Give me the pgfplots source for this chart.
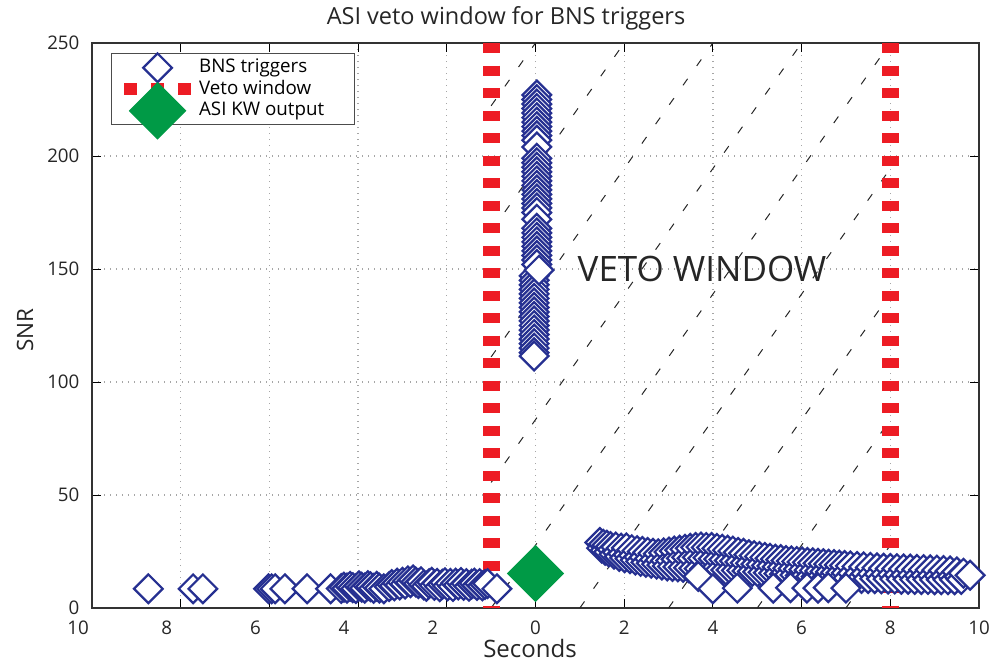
\documentclass[border=0pt]{standalone}
\usepackage{fontspec}
\setmainfont{Open Sans}
\usepackage{pgfplots}
\pgfplotsset{compat=1.18}
\definecolor{bnsblue}{RGB}{38,48,145}
\definecolor{vetored}{RGB}{237,28,36}
\definecolor{kwgreen}{RGB}{0,154,70}
\pgfplotsset{
  marklegend/.style={legend image code/.code={\begin{pgfinterruptboundingbox}\draw[mark repeat=2,mark phase=2,##1] plot coordinates {(0pt,0pt) (13.4pt,0pt) (26.8pt,0pt)};\end{pgfinterruptboundingbox}\pgfpathrectangle{\pgfpoint{0pt}{-1pt}}{\pgfpoint{26.8pt}{2pt}}\pgfusepath{discard}}},
  redlegend/.style={legend image code/.code={\begin{pgfinterruptboundingbox}\draw[vetored, line width=4.8pt, dash pattern=on 5.2pt off 5.6pt] (0pt,0pt) -- (26.8pt,0pt);\end{pgfinterruptboundingbox}\pgfpathrectangle{\pgfpoint{0pt}{-1pt}}{\pgfpoint{26.8pt}{2pt}}\pgfusepath{discard}}},
  hatch/.style={forget plot, black!85, line width=0.4pt, dash pattern=on 3.2pt off 6.3pt},
  bns/.style={only marks, mark=square*, mark size=4.05pt, mark options={rotate=45, draw=bnsblue, fill=white, line width=0.9pt}},
}
\begin{document}
\begin{tikzpicture}
\begin{axis}[
  at={(0pt,0pt)}, anchor=south west,
  scale only axis, width=354.8pt, height=226pt,
  xmin=-10, xmax=10, ymin=0, ymax=250,
  xtick={-10,-8,...,10},
  xticklabels={{10\hspace*{11.2pt}},{8\hspace*{11.2pt}},{6\hspace*{11.2pt}},{4\hspace*{11.2pt}},{2\hspace*{11.2pt}},0,2,4,6,8,10},
  ytick={0,50,...,250},
  tick align=inside,
  major tick length=3.5pt,
  tick style={black, line width=0.4pt},
  axis line style={black!80, line width=0.5pt},
  grid=major,
  major grid style={gray!70, dotted, line width=0.5pt},
  /pgf/number format/assume math mode=true,
  ticklabel style={font=\fontsize{7.5}{9}\selectfont, text=black!85},
  xticklabel style={yshift=-1.5pt},
  yticklabel style={xshift=-1.5pt},
  legend cell align=left,
  legend style={at={(0.0214,0.982)}, anchor=north west, draw=black!70, line width=0.5pt, fill=white,
    font=\fontsize{7.5}{9}\selectfont, inner xsep=5pt, inner ysep=1.3pt,
    nodes={inner sep=0.6pt, text height=5.6pt, text depth=1.8pt},
    /tikz/every odd column/.append style={column sep=2.6pt}},
]
% hatching of the veto window
\addplot[hatch] coordinates {(-1,222.22) (0,250)};
\addplot[hatch] coordinates {(-1,166.67) (2,250)};
\addplot[hatch] coordinates {(-1,111.11) (4,250)};
\addplot[hatch] coordinates {(-1,55.56) (6,250)};
\addplot[hatch] coordinates {(-1,0) (8,250)};
\addplot[hatch] coordinates {(1,0) (8,194.44)};
\addplot[hatch] coordinates {(3,0) (8,138.89)};
\addplot[hatch] coordinates {(5,0) (8,83.33)};
\addplot[hatch] coordinates {(7,0) (8,27.78)};

% BNS triggers: before the window
\addplot[bns, marklegend] table {
x y
-8.73 8.5
-7.72 8.5
-7.50 8.5
-6.02 8.5
-5.95 8.5
-5.87 8.5
-5.65 8.5
-5.15 8.5
-4.62 8.5
-4.38 8.6
-4.32 9.2
-4.25 8.8
-4.18 9.6
-4.12 9.0
-4.05 8.6
-3.98 9.8
-3.92 9.2
-3.85 8.8
-3.78 9.9
-3.72 9.4
-3.65 8.7
-3.58 9.6
-3.52 8.8
-3.42 8.5
-3.30 9.5
-3.24 10.4
-3.18 9.8
-3.12 11.0
-3.06 10.2
-3.00 11.4
-2.94 10.6
-2.88 12.0
-2.82 11.2
-2.76 12.4
-2.70 11.5
-2.64 10.8
-2.58 11.6
-2.52 10.2
-2.46 9.6
-2.40 10.8
-2.34 11.4
-2.28 10.0
-2.22 10.9
-2.16 9.4
-2.10 10.5
-2.04 11.2
-1.98 9.8
-1.92 10.9
-1.86 9.5
-1.80 11.0
-1.74 10.2
-1.68 11.3
-1.62 10.0
-1.56 10.8
-1.50 9.6
-1.44 10.6
-1.38 11.0
-1.32 10.0
-1.26 10.8
-1.20 9.8
-1.14 10.4
-1.08 10.8
-0.87 8.5
};
\addlegendentry{\makebox[56.5pt][l]{BNS triggers}}

% BNS triggers: column at zero
\addplot[bns, forget plot] table {
x y
0.03 227
0.03 225
0.03 223
0.03 221
0.03 219
0.03 217
0.03 215
0.03 213
0.03 211
0.03 209
0.03 207
0.03 204
0.03 199
0.03 197
0.03 195
0.03 193
0.03 191
0.03 189
0.03 187
0.03 185
0.03 183
0.03 181
0.03 179
0.03 177
0.03 175
0.03 172
0.03 168
0.03 166
0.03 164
0.03 162
0.03 160
0.03 158
0.03 156
0.03 154
0.03 152
-0.03 147
-0.03 145
-0.03 143
-0.03 141
-0.03 139
-0.03 137
-0.03 135
-0.03 133
-0.03 131
-0.03 129
-0.03 127
-0.03 125
-0.03 123
-0.03 121
-0.03 119
-0.03 117
-0.03 115
-0.03 113
-0.03 111.5
0.08 149.5
};

% BNS triggers: after the window start
\addplot[bns, forget plot] table {
x y
1.45 29.0
1.49 26.5
1.53 28.2
1.57 25.5
1.61 27.8
1.65 24.8
1.69 27.2
1.73 25.8
1.77 23.8
1.81 27.0
1.85 24.6
1.89 22.8
1.93 26.5
1.97 24.0
2.01 22.2
2.05 26.6
2.09 23.5
2.13 21.8
2.17 25.8
2.21 23.2
2.25 21.2
2.29 25.4
2.33 22.6
2.37 20.6
2.41 25.0
2.45 22.4
2.49 20.2
2.53 24.6
2.57 21.8
2.61 19.8
2.65 24.2
2.69 21.4
2.73 19.4
2.77 24.0
2.81 21.2
2.85 19.0
2.89 24.4
2.93 21.0
2.97 18.6
3.01 24.8
3.05 21.0
3.09 18.4
3.13 25.2
3.17 21.6
3.21 18.2
3.25 25.6
3.29 22.0
3.33 18.0
3.37 26.0
3.41 22.4
3.45 17.8
3.49 26.4
3.53 22.0
3.57 17.6
3.61 26.8
3.65 22.4
3.69 17.4
3.73 27.0
3.77 22.0
3.81 17.2
3.85 26.8
3.89 22.2
3.93 17.2
3.97 26.8
4.01 21.8
4.05 17.0
4.09 26.4
4.13 21.6
4.17 17.0
4.21 26.0
4.25 21.4
4.29 16.8
4.33 25.6
4.37 21.0
4.41 16.8
4.45 25.2
4.49 20.8
4.53 16.6
4.57 24.6
4.61 20.4
4.65 16.6
4.69 24.2
4.73 20.0
4.77 16.4
4.81 23.6
4.85 19.8
4.89 16.2
4.93 23.2
4.97 19.4
5.01 16.0
5.05 22.8
5.09 19.2
5.13 15.8
5.17 22.4
5.21 18.8
5.25 15.6
5.29 22.0
5.33 18.6
5.37 15.4
5.41 21.6
5.45 18.2
5.49 15.2
5.53 21.4
5.57 18.0
5.61 15.0
5.65 21.0
5.69 17.6
5.73 14.8
5.77 20.8
5.81 17.4
5.85 14.6
5.89 20.6
5.93 17.2
5.97 14.4
6.01 20.4
6.05 17.0
6.09 14.2
6.13 20.2
6.17 16.8
6.21 14.0
6.25 20.0
6.29 16.6
6.33 13.9
6.37 19.8
6.41 16.4
6.45 13.8
6.49 19.6
6.53 16.2
6.57 13.7
6.61 19.4
6.65 16.0
6.69 13.6
6.73 19.2
6.77 15.8
6.81 13.5
6.85 19.0
6.89 15.6
6.93 13.4
6.97 18.8
7.01 15.5
7.05 13.3
7.10 18.6
7.15 15.4
7.20 13.2
7.25 18.4
7.30 15.3
7.35 13.1
7.40 18.2
7.45 15.2
7.50 13.0
7.55 18.0
7.60 15.1
7.65 13.0
7.70 17.8
7.75 15.0
7.80 12.9
7.85 17.6
7.90 14.9
7.95 12.8
8.00 17.5
8.05 14.8
8.10 12.8
8.15 17.4
8.20 14.7
8.25 12.7
8.30 17.3
8.35 14.6
8.40 12.7
8.45 17.2
8.50 14.5
8.55 12.6
8.60 17.1
8.65 14.4
8.70 12.6
8.75 17.0
8.80 14.4
8.85 12.6
8.90 16.9
8.95 14.3
9.00 12.5
9.05 16.8
9.10 14.2
9.15 12.5
9.20 16.6
9.25 14.1
9.30 12.5
9.35 16.4
9.40 14.0
9.45 12.5
9.50 16.0
9.55 13.8
9.60 12.6
9.65 15.4
9.80 14.5
};

% BNS triggers: low row inside the window
\addplot[bns, forget plot] table {
x y
3.67 14.0
4.00 8.5
4.55 8.8
5.36 8.8
5.75 9.0
6.12 8.8
6.37 8.8
6.60 9.0
7.00 8.8
};

% veto window edges
\addplot[vetored, line width=6.8pt, dash pattern=on 4pt off 5pt, redlegend]
  coordinates {(-1,250) (-1,0)};
\addlegendentry{Veto window}
\addplot[forget plot, vetored, line width=6.8pt, dash pattern=on 4pt off 5pt] coordinates {(8,250) (8,0)};

% ASI KW output
\addplot[only marks, mark=square*, mark size=7.9pt, mark options={rotate=45, fill=kwgreen, draw=kwgreen}, marklegend]
  coordinates {(0,15.3)};
\addlegendentry{ASI KW output}

\node[anchor=west, inner sep=0pt, font=\fontsize{14}{16}\selectfont, text=black!85] at (axis cs:0.94,150) {VETO WINDOW};
\end{axis}
\node[font=\fontsize{9.4}{11}\selectfont, text=black!85] at (165.6pt,236pt) {ASI veto window for BNS triggers};
\node[font=\fontsize{9.6}{11}\selectfont, text=black!85] at (175.2pt,-16pt) {Seconds};
\node[font=\fontsize{9}{11}\selectfont, text=black!85, rotate=90] at (-26.8pt,111.2pt) {SNR};
\pgfresetboundingbox
\path[use as bounding box] (-36.8pt,-22pt) rectangle (361.2pt,243.2pt);
\end{tikzpicture}
\end{document}
